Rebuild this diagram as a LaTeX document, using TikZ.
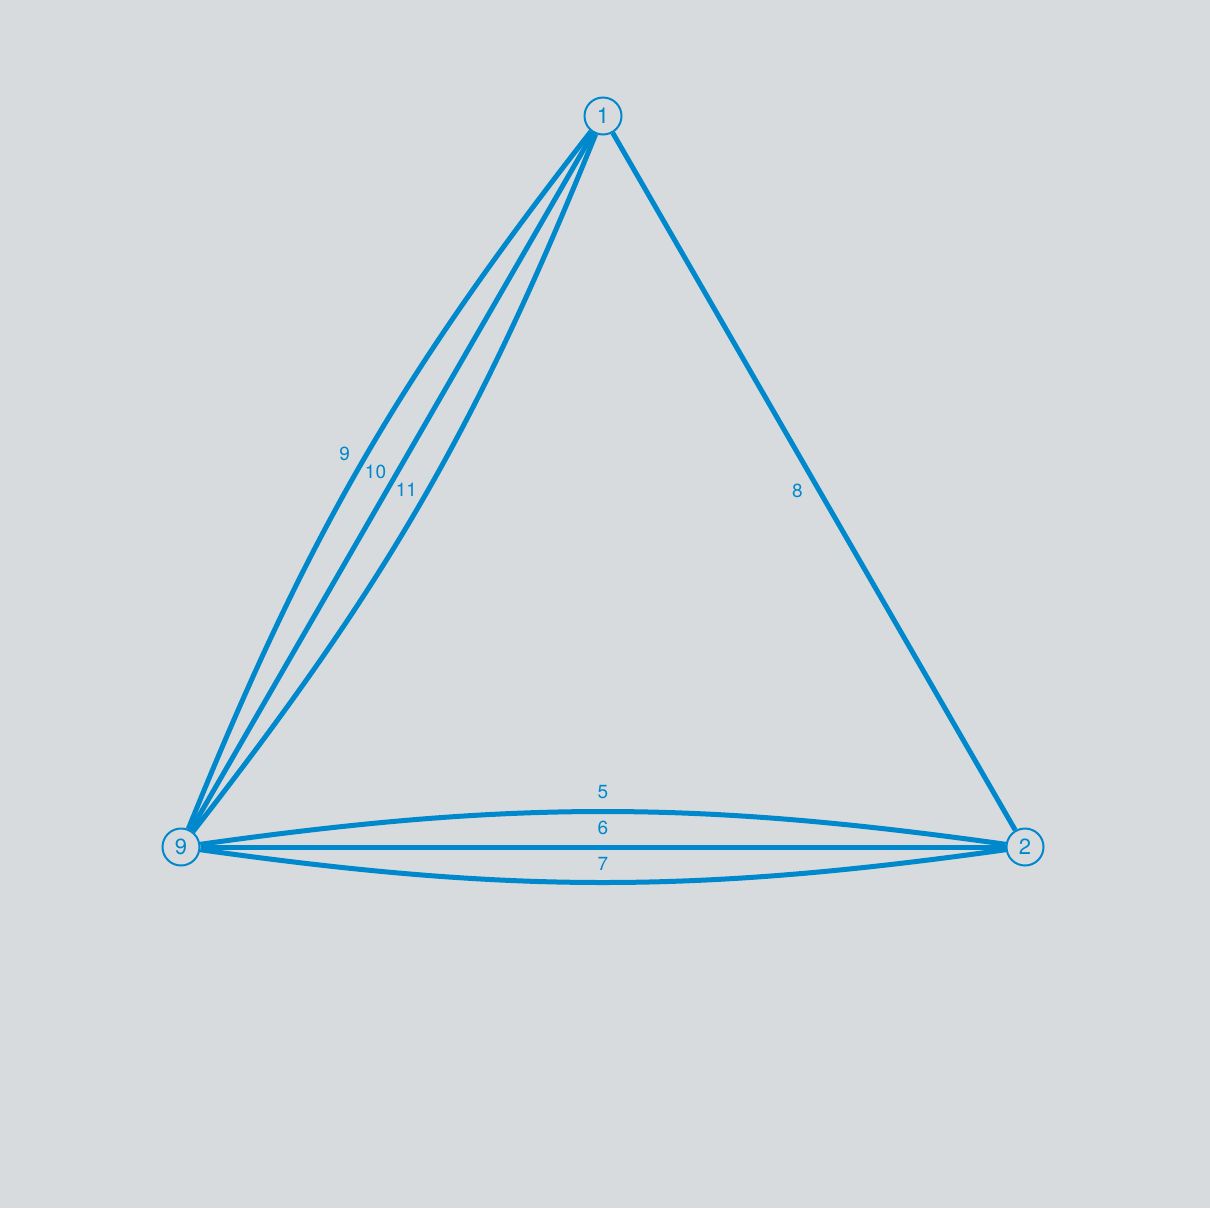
\documentclass[tikz,border=0pt]{standalone}
\usepackage{fontspec}
\setmainfont{TeX Gyre Heros}
\usetikzlibrary{backgrounds}
\definecolor{bg}{HTML}{D7DBDD}
\definecolor{edgeblue}{HTML}{0088CC}
\tikzset{
  vertex/.style={circle, draw=edgeblue, line width=2pt, fill=bg, minimum size=37pt, inner sep=0pt, text=edgeblue, font=\fontsize{22}{22}\selectfont},
  link/.style={draw=edgeblue, line width=5pt},
  elabel/.style={text=edgeblue, font=\fontsize{19}{19}\selectfont, inner sep=0pt}
}
\begin{document}
\begin{tikzpicture}[x=1pt,y=-1pt]
\node[vertex] (n1) at (603,116) {1};
\node[vertex] (n9) at (181,847) {9};
\node[vertex] (n2) at (1025,847) {2};
\begin{pgfonlayer}{background}
\fill[bg] (0,0) rectangle (1210,1208);
\draw[link] (n1) to[bend right=8] node[elabel, midway, xshift=-16.5pt, yshift=9.5pt] {9} (n9);
\draw[link] (n1) to node[elabel, midway, xshift=-16.5pt, yshift=9.5pt] {10} (n9);
\draw[link] (n1) to[bend left=8] node[elabel, midway, xshift=-16.5pt, yshift=9.5pt] {11} (n9);
\draw[link] (n1) to node[elabel, midway, xshift=-16.5pt, yshift=-9pt] {8} (n2);
\draw[link] (n9) to[bend left=8] node[elabel, midway, yshift=19pt] {5} (n2);
\draw[link] (n9) to node[elabel, midway, yshift=19pt] {6} (n2);
\draw[link] (n9) to[bend right=8] node[elabel, midway, yshift=19pt] {7} (n2);
\end{pgfonlayer}
\useasboundingbox (0,0) rectangle (1210,1208);
\end{tikzpicture}
\end{document}
